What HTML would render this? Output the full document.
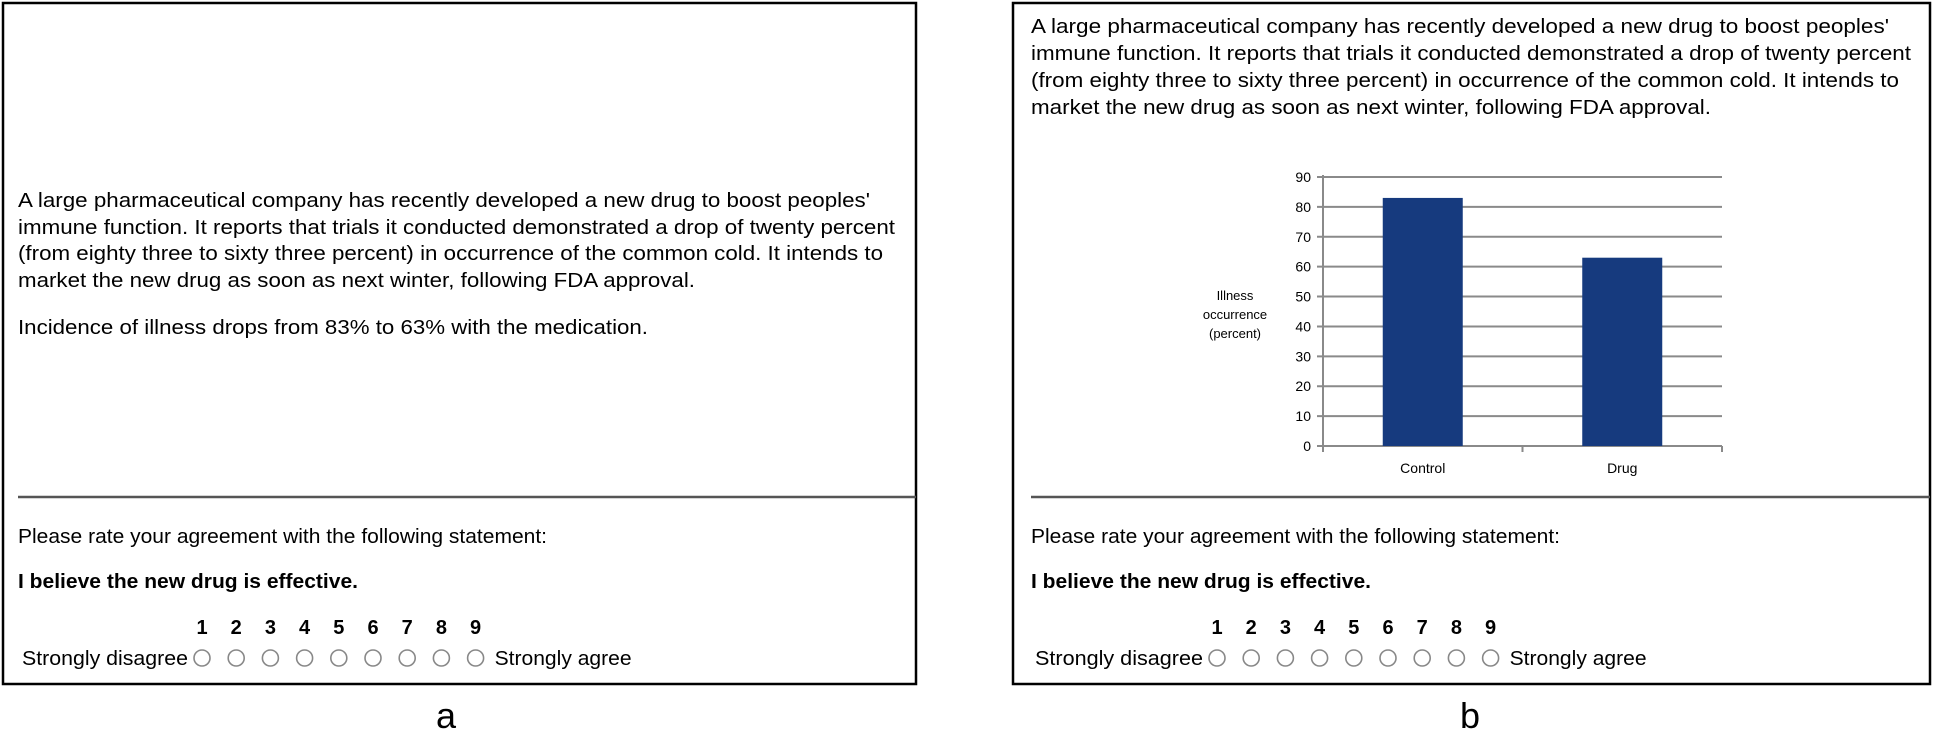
<!DOCTYPE html>
<html><head><meta charset="utf-8"><style>
html,body{margin:0;padding:0;background:#fff}
svg{display:block}
text{font-family:"Liberation Sans",Arial,sans-serif;fill:#000}
</style></head><body>
<svg width="1937" height="734" viewBox="0 0 1937 734">
<g id="pa">
<rect x="3" y="3" width="913" height="681" fill="#fff" stroke="#000" stroke-width="2.5"/>
<g font-size="20.5">
<text x="18" y="207" textLength="852" lengthAdjust="spacingAndGlyphs">A large pharmaceutical company has recently developed a new drug to boost peoples'</text>
<text x="18" y="234" textLength="877" lengthAdjust="spacingAndGlyphs">immune function. It reports that trials it conducted demonstrated a drop of twenty percent</text>
<text x="18" y="260" textLength="865" lengthAdjust="spacingAndGlyphs">(from eighty three to sixty three percent) in occurrence of the common cold. It intends to</text>
<text x="18" y="287" textLength="677" lengthAdjust="spacingAndGlyphs">market the new drug as soon as next winter, following FDA approval.</text>
<text x="18" y="334" textLength="630" lengthAdjust="spacingAndGlyphs">Incidence of illness drops from 83% to 63% with the medication.</text>
</g>
<line x1="18" y1="497" x2="916" y2="497" stroke="#555" stroke-width="2.5"/>
</g>
<g id="pb">
<rect x="1013" y="3" width="917" height="681" fill="#fff" stroke="#000" stroke-width="2.5"/>
<g font-size="20.5">
<text x="1031" y="33" textLength="858" lengthAdjust="spacingAndGlyphs">A large pharmaceutical company has recently developed a new drug to boost peoples'</text>
<text x="1031" y="60" textLength="880" lengthAdjust="spacingAndGlyphs">immune function. It reports that trials it conducted demonstrated a drop of twenty percent</text>
<text x="1031" y="87" textLength="868" lengthAdjust="spacingAndGlyphs">(from eighty three to sixty three percent) in occurrence of the common cold. It intends to</text>
<text x="1031" y="114" textLength="680" lengthAdjust="spacingAndGlyphs">market the new drug as soon as next winter, following FDA approval.</text>
</g>
<g id="chart"></g>
<line x1="1031" y1="497" x2="1930" y2="497" stroke="#555" stroke-width="2.5"/>
</g>
<text x="446" y="728" font-size="36" text-anchor="middle">a</text>
<text x="1470" y="728" font-size="36" text-anchor="middle">b</text>
</svg>
<script>
const categories = ["Control", "Drug"];
const values = [83, 63];
const yTicks = [0,10,20,30,40,50,60,70,80,90];
const scaleNums = [1,2,3,4,5,6,7,8,9];

const NS = "http://www.w3.org/2000/svg";
function mk(tag, attrs, parent, txt){
  const e = document.createElementNS(NS, tag);
  for (const k in attrs) e.setAttribute(k, attrs[k]);
  if (txt !== undefined) e.textContent = txt;
  parent.appendChild(e);
  return e;
}
const chart = document.getElementById("chart");
const x0 = 1323, x1 = 1722, yTop = 177, yBot = 446, yMax = 90;
const yS = v => yBot - (v / yMax) * (yBot - yTop);
const band = (x1 - x0) / categories.length;
const xC = i => x0 + band * (i + 0.5);
yTicks.forEach(t => {
  const g = mk("line", {x1: x0 - 6, x2: x1, y1: yS(t), y2: yS(t), stroke: "#8a8a8a", "stroke-width": 2}, chart);
  
  
  const l = mk("text", {x: x0 - 12, y: yS(t) + 5, "font-size": 14, "text-anchor": "end"}, chart, String(t));
  
  
});
const ax = mk("line", {x1: x0, x2: x0, y1: yTop - 2, y2: yBot + 6, stroke: "#8a8a8a", "stroke-width": 2}, chart);


for (let i = 0; i <= categories.length; i++) {
  const tk = mk("line", {x1: x0 + band * i, x2: x0 + band * i, y1: yBot, y2: yBot + 6, stroke: "#8a8a8a", "stroke-width": 2}, chart);
  
  
}
const bw = 80;
categories.forEach((c, i) => {
  const b = mk("rect", {x: xC(i) - bw / 2, y: yS(values[i]), width: bw, height: yBot - yS(values[i]), fill: "#163a7e"}, chart);
  
  
  const t = mk("text", {x: xC(i), y: 473, "font-size": 14, "text-anchor": "middle"}, chart, c);
  
  
});
const yt = mk("g", {}, chart);


["Illness", "occurrence", "(percent)"].forEach((s, i) => {
  mk("text", {x: 1235, y: 300 + i * 19, "font-size": 13, "text-anchor": "middle"}, yt, s);
});
function scale(panel, left, circ0) {
  const p = document.getElementById(panel);
  const step = 34.2;
  const q = mk("text", {x: left, y: 543, "font-size": 20.5, textLength: 529, lengthAdjust: "spacingAndGlyphs"}, p, "Please rate your agreement with the following statement:");
  
  
  const s = mk("text", {x: left, y: 588, "font-size": 20.5, "font-weight": "bold", textLength: 340, lengthAdjust: "spacingAndGlyphs"}, p, "I believe the new drug is effective.");
  
  
  const d = mk("text", {x: left + 4, y: 665, "font-size": 20.5, textLength: circ0 - left - 18, lengthAdjust: "spacingAndGlyphs"}, p, "Strongly disagree");
  
  
  scaleNums.forEach((n, i) => {
    const cx = circ0 + step * i;
    const nt = mk("text", {x: cx, y: 634, "font-size": 20, "font-weight": "bold", "text-anchor": "middle"}, p, String(n));
    
    
    const c = mk("circle", {cx: cx, cy: 658, r: 8, fill: "#fff", stroke: "#888", "stroke-width": 1.6}, p);
    
    
  });
  const a = mk("text", {x: circ0 + step * 8 + 19, y: 665, "font-size": 20.5, textLength: 137, lengthAdjust: "spacingAndGlyphs"}, p, "Strongly agree");
  
  
}
scale("pa", 18, 202);
scale("pb", 1031, 1217);
</script>
</body></html>
